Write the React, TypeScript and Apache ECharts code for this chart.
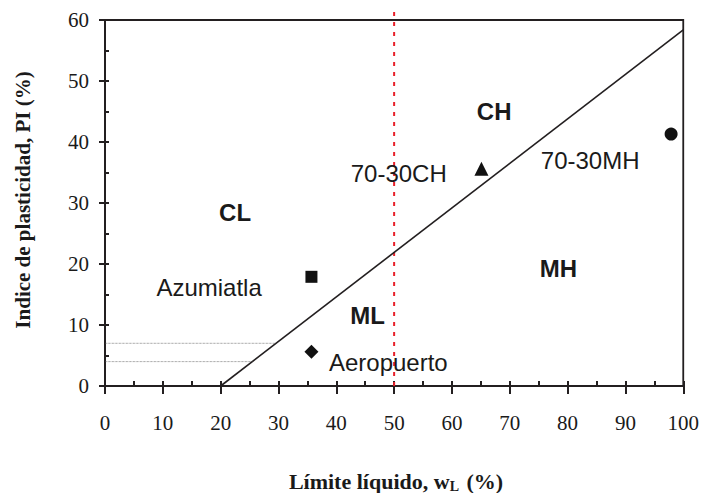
import React, { useEffect, useRef } from "react";
import * as echarts from "echarts";

// A-line (PI = 0.73 (wL - 20))
const aLineLL = [20, 100];
const aLinePI = [0, 58.4];
// wL = 50 boundary (dashed red)
const boundaryLL = [50, 50];
const boundaryPI = [0, 61.3];
// CL-ML band limits
const band7LL = [0, 29.6];
const band7PI = [7, 7];
const band4LL = [0, 25.5];
const band4PI = [4, 4];

// Samples
const sampleNames = ["Azumiatla", "Aeropuerto", "70-30CH", "70-30MH"];
const sampleLL = [35.7, 35.7, 65.1, 97.9];
const samplePI = [17.9, 5.6, 35.6, 41.3];
const sampleSymbols = ["rect", "diamond", "triangle", "circle"];
const sampleSizes = [12, 14, 14, 13];

// Zone labels
const zoneNames = ["CL", "CH", "MH", "ML"];
const zoneLL = [22.5, 67.3, 78.4, 45.4];
const zonePI = [28.5, 45.0, 19.3, 11.6];

// Sample name labels
const nameLabels = ["Azumiatla", "Aeropuerto", "70-30CH", "70-30MH"];
const nameLL = [18.0, 49.0, 50.8, 83.9];
const namePI = [16.1, 3.8, 34.9, 37.0];

const xTicks = [0, 10, 20, 30, 40, 50, 60, 70, 80, 90, 100];
const yTicks = [0, 10, 20, 30, 40, 50, 60];

const INK = "#231f20";
const TEXT = "#1a1a1a";
const SERIF = "Liberation Serif";
const SANS = "Liberation Sans";

const zip = (a: number[], b: number[]) => a.map((v, i) => [v, b[i]]);

export default function App() {
  const ref = useRef<HTMLDivElement>(null);
  useEffect(() => {
    if (!ref.current) return;
    const chart = echarts.init(ref.current, undefined, { renderer: "svg" });
    const xMin = xTicks[0];
    const xMax = xTicks[xTicks.length - 1];
    const yMin = yTicks[0];
    const yMax = yTicks[yTicks.length - 1];
    chart.setOption({
      animation: false,
      grid: { left: 105, right: 18, top: 20, bottom: 107, show: true, borderColor: INK, borderWidth: 1.8 },
      xAxis: [
        {
          type: "value", min: xMin, max: xMax, interval: 10, position: "bottom",
          axisLine: { show: true, onZero: false, lineStyle: { color: INK, width: 2 } },
          axisTick: { show: true, inside: false, length: 8, lineStyle: { color: INK, width: 2 } },
          axisLabel: { margin: 26, fontFamily: SERIF, fontSize: 21, color: TEXT, opacity: 1 },
          splitLine: { show: false },
        },
        {
          type: "value", min: xMin, max: xMax, interval: 5, position: "bottom",
          axisLine: { show: false, onZero: false },
          axisTick: { show: true, inside: true, length: 5, lineStyle: { color: INK, width: 2 } },
          axisLabel: { show: false }, splitLine: { show: false },
        },
      ],
      yAxis: [
        {
          type: "value", min: yMin, max: yMax, interval: 10, position: "left",
          axisLine: { show: true, onZero: false, lineStyle: { color: INK, width: 2 } },
          axisTick: { show: true, inside: false, length: 6, lineStyle: { color: INK, width: 2 } },
          axisLabel: { margin: 16, fontFamily: SERIF, fontSize: 21, color: TEXT, opacity: 1 },
          splitLine: { show: false },
        },
        {
          type: "value", min: yMin, max: yMax, interval: 5, position: "left",
          axisLine: { show: false, onZero: false },
          axisTick: { show: true, inside: true, length: 4, lineStyle: { color: INK, width: 2 } },
          axisLabel: { show: false }, splitLine: { show: false },
        },
      ],
      series: [
        { type: "line", data: zip(aLineLL, aLinePI), symbol: "none", lineStyle: { color: INK, width: 1.6 }, z: 3 },
        { type: "line", data: zip(boundaryLL, boundaryPI), symbol: "none", clip: false, lineStyle: { color: "#e8202a", width: 2, type: [4, 6] }, z: 2 },
        { type: "line", data: zip(band7LL, band7PI), symbol: "none", lineStyle: { color: "#555", width: 0.7, type: "dotted" } },
        { type: "line", data: zip(band4LL, band4PI), symbol: "none", lineStyle: { color: "#555", width: 0.7, type: "dotted" } },
        {
          type: "scatter",
          data: sampleNames.map((n, i) => ({ name: n, value: [sampleLL[i], samplePI[i]], symbol: sampleSymbols[i], symbolSize: sampleSizes[i] })),
          itemStyle: { color: "#111", opacity: 1 }, z: 4,
        },
        {
          type: "scatter",
          data: zoneNames.map((n, i) => ({ name: n, value: [zoneLL[i], zonePI[i]] })),
          symbolSize: 1, itemStyle: { color: "transparent", opacity: 1 },
          label: { show: true, position: "inside", formatter: (p: any) => p.name, fontFamily: SANS, fontWeight: "bold", fontSize: 24, color: TEXT, opacity: 1 },
          z: 5,
        },
        {
          type: "scatter",
          data: nameLabels.map((n, i) => ({ name: n, value: [nameLL[i], namePI[i]] })),
          symbolSize: 1, itemStyle: { color: "transparent", opacity: 1 },
          label: { show: true, position: "inside", formatter: (p: any) => p.name, fontFamily: SANS, fontSize: 24, color: TEXT, opacity: 1 },
          z: 5,
        },
      ],
      graphic: [
        { type: "text", x: 23, y: 200, rotation: Math.PI / 2,
          style: { text: "Indice de plasticidad, PI (%)", font: `bold 21px ${SERIF}`, fill: TEXT, align: "center", verticalAlign: "middle" } },
        { type: "text", x: 396, y: 481,
          style: { text: "{a|Límite líquido, w}{s|L}{a| (%)}", fill: TEXT, align: "center", verticalAlign: "middle",
            rich: {
              a: { fontFamily: SERIF, fontWeight: "bold", fontSize: 22, fill: TEXT, lineHeight: 24 },
              s: { fontFamily: SERIF, fontWeight: "bold", fontSize: 14, fill: TEXT, lineHeight: 24, verticalAlign: "bottom", padding: [0, 2, 0, 0] },
            } } },
      ],
    });
    return () => chart.dispose();
  }, []);
  return <div ref={ref} style={{ position: "fixed", left: 0, top: 0, width: 702, height: 493, background: "#fff" }} />;
}
